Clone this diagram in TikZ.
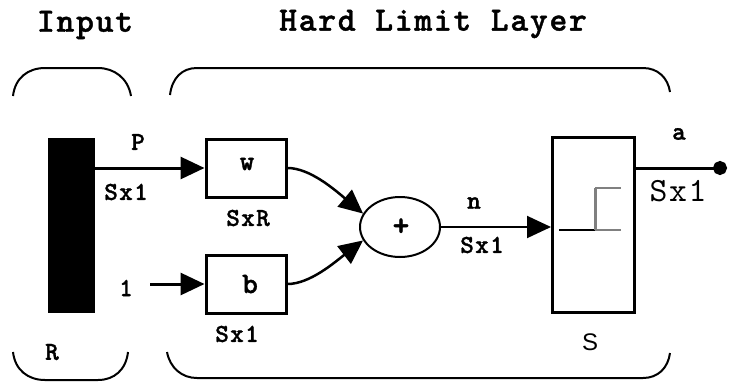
\documentclass[tikz,border=0pt]{standalone}
\usepackage{fontspec}
\setmainfont{Liberation Mono}
\newfontfamily\cmb[LetterSpace=5,FakeBold=1.2]{lmmonolt10-bold.otf}
\newfontfamily\cmr[LetterSpace=5]{lmmono10-regular.otf}
\newfontfamily\sansf{Liberation Sans}
\usetikzlibrary{arrows.meta,shapes.geometric}
\tikzset{
  lbl/.style={inner sep=0pt, font=\cmb\fontsize{26}{26}\selectfont},
  title/.style={inner sep=0pt, font=\cmb\fontsize{34}{34}\selectfont},
  blk/.style={draw, line width=3pt, inner sep=0pt, minimum width=80pt, minimum height=58pt},
  brk/.style={line width=2pt},
  sig/.style={line width=3pt, -{Triangle[length=24pt,width=22pt]}},
  thin sig/.style={line width=2pt, -{Triangle[length=24pt,width=22pt]}}
}
\begin{document}
\begin{tikzpicture}[x=1pt,y=-1pt]
\useasboundingbox (0,0) rectangle (733,381);
% titles
\node[title] (tin) at (85,25) {Input};
\node[title] (tlay) at (433,24) {Hard Limit Layer};
% brackets
\draw[brk] (13,96) .. controls (15,78) and (28,68) .. (45,68) -- (98,68) .. controls (114,68) and (128,78) .. (131,96);
\draw[brk] (13,352) .. controls (15,370) and (28,380) .. (45,380) -- (98,380) .. controls (114,380) and (126,370) .. (128,352);
\draw[brk] (170,95) .. controls (172,78) and (182,68) .. (197,68) -- (643,68) .. controls (658,68) and (668,78) .. (670,92);
\draw[brk] (167,352) .. controls (170,368) and (182,378) .. (197,378) -- (643,378) .. controls (658,378) and (668,368) .. (670,353);
% input bar
\node[fill=black, inner sep=0pt, minimum width=47pt, minimum height=175pt, anchor=north west] (bar) at (48,138) {};
\coordinate (pout) at (95,168);
% weight and bias blocks
\node[blk] (W) at (246,168) {};
\node[lbl, font=\cmb\fontsize{28}{28}\selectfont] (Wt) at (247,164) {w};
\node[blk] (B) at (246,284) {};
\node[lbl, font=\cmb\fontsize{30}{30}\selectfont] (Bt) at (250,284) {b};
% summation
\node[draw, line width=2pt, ellipse, minimum width=80pt, minimum height=60pt, inner sep=0pt] (sum) at (400,227) {};
\node[lbl, font=\cmb\fontsize{32}{32}\selectfont] (plus) at (401,227) {+};
% transfer block
\node[draw, line width=3pt, inner sep=0pt, minimum width=82pt, minimum height=175pt, anchor=north west] (T) at (551,136) {};
\coordinate (s1) at (559,230);
\coordinate (s2) at (595,230);
\coordinate (s3) at (595,188);
\coordinate (s4) at (621,188);
\coordinate (s5) at (621,230);
\draw[line width=2pt] (s1) -- (s2);
\draw[line width=2pt, gray] (s2) -- (s5);
\draw[line width=3pt, gray] (s2) -- (s3);
\draw[line width=2pt, gray] (s3) -- (s4);
% connectors
\draw[sig] (pout) -- (W.west);
\coordinate (one) at (150,284);
\draw[sig] (one) -- (B.west);
\draw[line width=2.5pt, -{Triangle[length=24pt,width=22pt]}] (W.east) .. controls (310,168) and (335,190) .. (sum.160);
\draw[line width=2.5pt, -{Triangle[length=24pt,width=22pt]}] (B.east) .. controls (310,284) and (335,262) .. (sum.200);
\draw[thin sig] (sum.east) -- (T.west |- sum.east);
\coordinate (aout) at (727,168);
\draw[line width=3pt, -{Circle[length=14pt]}] (T.east |- aout) -- (aout);
% labels
\node[lbl] (lp) at (138,142) {P};
\node[lbl] (ls1) at (126,192) {Sx1};
\node[lbl] (lsxr) at (248,218) {SxR};
\node[lbl] (l1) at (126,288) {1};
\node[lbl] (ls2) at (237,334) {Sx1};
\node[lbl] (lr) at (52,352) {R};
\node[lbl] (ln) at (474,203) {n};
\node[lbl] (ls3) at (482,245) {Sx1};
\node[lbl] (la) at (679,134) {a};
\node[inner sep=0pt, font=\cmr\fontsize{34}{34}\selectfont] (ls4) at (678,191) {Sx1};
\node[inner sep=0pt, font=\sansf\fontsize{24}{24}\selectfont] (ls) at (590,342) {S};
\end{tikzpicture}
\end{document}
